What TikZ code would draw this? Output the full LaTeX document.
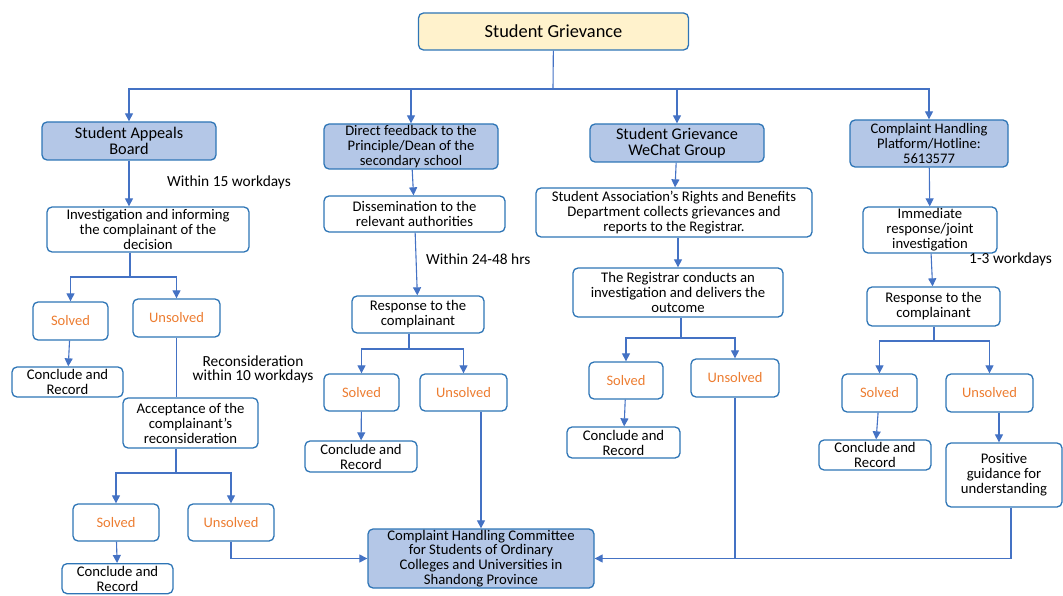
\documentclass[tikz,border=0pt]{standalone}
\usepackage{fontspec}
\setmainfont{Carlito}
\usetikzlibrary{arrows.meta}
\definecolor{bd}{HTML}{2E75B6}
\definecolor{ln}{HTML}{4472C4}
\definecolor{mainfill}{HTML}{B4C7E7}
\definecolor{topfill}{HTML}{FFF2CC}
\definecolor{org}{HTML}{ED7D31}
\tikzset{
  box/.style={draw=bd, rounded corners=5pt, line width=1.3pt, align=center, inner sep=0.5pt, fill=white,
    font=\fontsize{14.7}{15}\selectfont},
  mainbox/.style={box, fill=mainfill, font=\fontsize{16.3}{16}\selectfont},
  smallmain/.style={box, fill=mainfill, font=\fontsize{14.6}{15}\selectfont},
  outcome/.style={box, text=org, font=\fontsize{14.5}{15}\selectfont},
  conn/.style={draw=ln, line width=1.1pt},
  arr/.style={conn, -{Triangle[length=8pt,width=8pt]}},
  lbl/.style={font=\fontsize{15.4}{14}\selectfont, inner sep=0pt}
}
\begin{document}
\begin{tikzpicture}[x=1pt,y=-1pt]
\useasboundingbox (0,0) rectangle (1063,596);
% top
\node[box, fill=topfill, minimum width=270pt, minimum height=37pt, font=\fontsize{18.4}{18}\selectfont] (top) at (553.5,31.5) {Student Grievance};
% level 1
\node[mainbox, minimum width=174pt, minimum height=38pt] (sab) at (129,141) {Student Appeals\\Board};
\node[smallmain, minimum width=174pt, minimum height=45pt] (df) at (411,146.5) {Direct feedback to the\\Principle/Dean of the\\secondary school};
\node[mainbox, minimum width=174pt, minimum height=38pt] (wc) at (677,143) {Student Grievance\\WeChat Group};
\node[smallmain, minimum width=158pt, minimum height=47pt] (chp) at (929,143.5) {Complaint Handling\\Platform/Hotline:\\5613577};
% level 2
\node[box, minimum width=202pt, minimum height=45pt] (inv) at (148,229.5) {Investigation and informing\\the complainant of the\\decision};
\node[box, minimum width=181pt, minimum height=36pt] (dis) at (414.5,214) {Dissemination to the\\relevant authorities};
\node[box, minimum width=276pt, minimum height=49pt] (sa) at (674,212.5) {Student Association's Rights and Benefits\\Department collects grievances and\\reports to the Registrar.};
\node[box, minimum width=134pt, minimum height=46pt] (imm) at (930,230) {Immediate\\response/joint\\investigation};
% level 3
\node[box, minimum width=132pt, minimum height=37pt] (resp) at (418,314.5) {Response to the\\complainant};
\node[box, minimum width=210pt, minimum height=49pt] (reg) at (678,292.5) {The Registrar conducts an\\investigation and delivers the\\outcome};
\node[box, minimum width=133pt, minimum height=39pt] (respR) at (933.5,306.5) {Response to the\\complainant};
% outcomes left
\node[outcome, minimum width=75pt, minimum height=38pt] (s1) at (70.5,321) {Solved};
\node[outcome, minimum width=87pt, minimum height=38pt] (u1) at (176.5,318) {Unsolved};
\node[box, minimum width=111pt, minimum height=30pt] (c1) at (67.5,382) {Conclude and\\Record};
\node[box, minimum width=135pt, minimum height=50pt] (acc) at (190.5,423) {Acceptance of the\\complainant's\\reconsideration};
\node[outcome, minimum width=86pt, minimum height=37pt] (s2) at (116,522.5) {Solved};
\node[outcome, minimum width=86pt, minimum height=37pt] (u2) at (231,522.5) {Unsolved};
\node[box, minimum width=111pt, minimum height=30pt, anchor=north] (c2) at (117.5,563) {Conclude and\\Record};
% outcomes middle
\node[outcome, minimum width=75pt, minimum height=37pt] (sm) at (361.5,392.5) {Solved};
\node[outcome, minimum width=87pt, minimum height=37pt] (um) at (463.5,392.5) {Unsolved};
\node[box, minimum width=112pt, minimum height=31pt] (cm) at (361,456.5) {Conclude and\\Record};
% outcomes registrar
\node[outcome, minimum width=74pt, minimum height=37pt] (sr) at (626,380.5) {Solved};
\node[outcome, minimum width=88pt, minimum height=38pt] (ur) at (735,378) {Unsolved};
\node[box, minimum width=113pt, minimum height=31pt] (cr) at (623.5,442.5) {Conclude and\\Record};
% outcomes right
\node[outcome, minimum width=75pt, minimum height=38pt] (sR) at (879.5,393) {Solved};
\node[outcome, minimum width=87pt, minimum height=38pt] (uR) at (989.5,393) {Unsolved};
\node[box, minimum width=112pt, minimum height=30pt] (cR) at (875,455) {Conclude and\\Record};
\node[box, minimum width=116pt, minimum height=64pt] (pg) at (1004,475) {Positive\\guidance for\\understanding};
% committee
\node[smallmain, minimum width=226pt, minimum height=59pt, font=\fontsize{14.7}{14.7}\selectfont] (chc) at (481,558.5) {Complaint Handling Committee\\for Students of Ordinary\\Colleges and Universities in\\Shandong Province};
% labels
\node[lbl, anchor=west] (l15) at (167,182) {Within 15 workdays};
\node[lbl, anchor=west] (l24) at (426,259) {Within 24-48 hrs};
\node[lbl, anchor=west] (l13) at (969,259) {1-3 workdays};
\node[lbl, align=center] (l10) at (253,369) {Reconsideration\\within 10 workdays};
% bus
\coordinate (b) at (553,89);
\draw[conn] (top) -- (b);
\draw[arr] (b) -| (sab);
\draw[arr] (b) -| (df);
\draw[arr] (b) -| (wc);
\draw[arr] (b) -| (chp);
% column 1
\draw[arr] (sab.south) -- (sab.south |- inv.north);
\coordinate (j1) at (130,277);
\draw[conn] (inv.south -| j1) -- (j1);
\draw[arr] (j1) -| (s1);
\draw[arr] (j1) -| (u1);
\draw[arr] (s1) -- (c1);
\draw[conn] (u1.south) -- (u1.south |- acc.north);
\coordinate (j2) at (176,473);
\draw[conn] (acc.south -| j2) -- (j2);
\draw[arr] (j2) -| (s2);
\draw[arr] (j2) -| (u2);
\draw[arr] (s2) -- (c2);
\draw[arr] (u2) |- (chc);
% column 2
\draw[arr] (df) -- (dis);
\draw[arr] (dis) -- (resp);
\coordinate (j3) at (409,349);
\draw[conn] (resp.south -| j3) -- (j3);
\draw[arr] (j3) -| (sm);
\draw[arr] (j3) -| (um);
\draw[arr] (sm) -- (cm);
\draw[arr] (um.south -| chc) -- (chc);
% column 3
\draw[arr] (wc) -- (sa);
\draw[arr] (sa.south -| reg) -- (reg);
\coordinate (j4) at (681,338);
\draw[conn] (reg.south -| j4) -- (j4);
\draw[arr] (j4) -| (sr);
\draw[arr] (j4) -| (ur);
\draw[arr] (sr) -- (cr);
\draw[arr] (ur) |- (chc);
% column 4
\draw[arr] (chp) -- (imm);
\draw[arr] (imm) -- (respR);
\coordinate (j5) at (934,341);
\draw[conn] (respR.south -| j5) -- (j5);
\draw[arr] (j5) -| (sR);
\draw[arr] (j5) -| (uR);
\draw[arr] (sR) -- (cR);
\coordinate (k) at (999,0);
\draw[arr] (uR.south -| k) -- (pg.north -| k);
\coordinate (m) at (1011,558.5);
\draw[conn] (pg.south -| m) -- (m) -- (m -| ur);
\end{tikzpicture}
\end{document}
